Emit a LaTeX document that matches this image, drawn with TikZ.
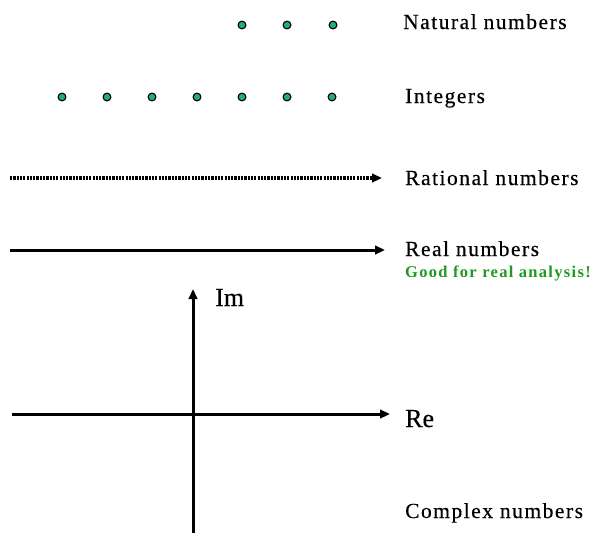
\documentclass[tikz,border=0pt]{standalone}
\usepackage{fontspec}
\setmainfont{Liberation Serif}
\newfontfamily\spacedfont[LetterSpace=7,FakeBold=0.4]{Liberation Serif}
\newfontfamily\axisfont[FakeBold=0.3]{Liberation Serif}
\newfontfamily\greenfont[LetterSpace=8]{Liberation Serif}
\usetikzlibrary{arrows.meta}
\definecolor{dotgreen}{HTML}{1FAE80}
\definecolor{goodgreen}{HTML}{1E9A1E}
\tikzset{
  numdot/.style={circle, draw=black, line width=1.1pt, fill=dotgreen, minimum size=7.8pt, inner sep=0pt},
  setlabel/.style={anchor=base west, inner sep=0pt, font=\spacedfont\fontsize{21.5}{24}\selectfont},
  axislabel/.style={anchor=base west, inner sep=0pt, font=\axisfont\fontsize{26}{30}\selectfont},
  notelabel/.style={anchor=base west, inner sep=0pt, text=goodgreen, font=\greenfont\bfseries\fontsize{16.5}{19}\selectfont},
  axisline/.style={line width=3pt, -{Triangle[length=10pt,width=8.5pt]}},
  ratline/.style={line width=3.5pt, dash pattern=on 2.2pt off 1.1pt, -{Triangle[length=10pt,width=8.5pt]}}
}
\begin{document}
\begin{tikzpicture}[x=1pt,y=-1pt]
\useasboundingbox (0,0) rectangle (601,533);
% Natural numbers
\node[numdot] (n1) at (242,25) {};
\node[numdot] (n2) at (287,25) {};
\node[numdot] (n3) at (333,25) {};
\node[setlabel] (nat) at (403,29) {Natural numbers};
% Integers
\foreach \i/\x in {1/62,2/107,3/152,4/197,5/242,6/287,7/332}
  \node[numdot] (z\i) at (\x,97) {};
\node[setlabel] (int) at (405,103) {Integers};
% Rational numbers
\coordinate (qs) at (10,178);
\coordinate (qe) at (382,178);
\draw[ratline] (qs) -- (qe);
\node[setlabel] (rat) at (405,185) {Rational numbers};
% Real numbers
\coordinate (rs) at (10,250);
\coordinate (re) at (385,250);
\draw[axisline] (rs) -- (re);
\node[setlabel] (real) at (405,256) {Real numbers};
\node[notelabel] (good) at (405,277) {Good for real analysis!};
% Complex plane
\coordinate (xs) at (12,414);
\coordinate (xe) at (390,414);
\coordinate (ys) at (193,533);
\coordinate (ye) at (193,289);
\draw[axisline] (xs) -- (xe);
\draw[axisline] (ys) -- (ye);
\node[axislabel] (im) at (215,306) {Im};
\node[axislabel] (relab) at (405,427) {Re};
\node[setlabel] (cplx) at (405,518) {Complex numbers};
\end{tikzpicture}
\end{document}
